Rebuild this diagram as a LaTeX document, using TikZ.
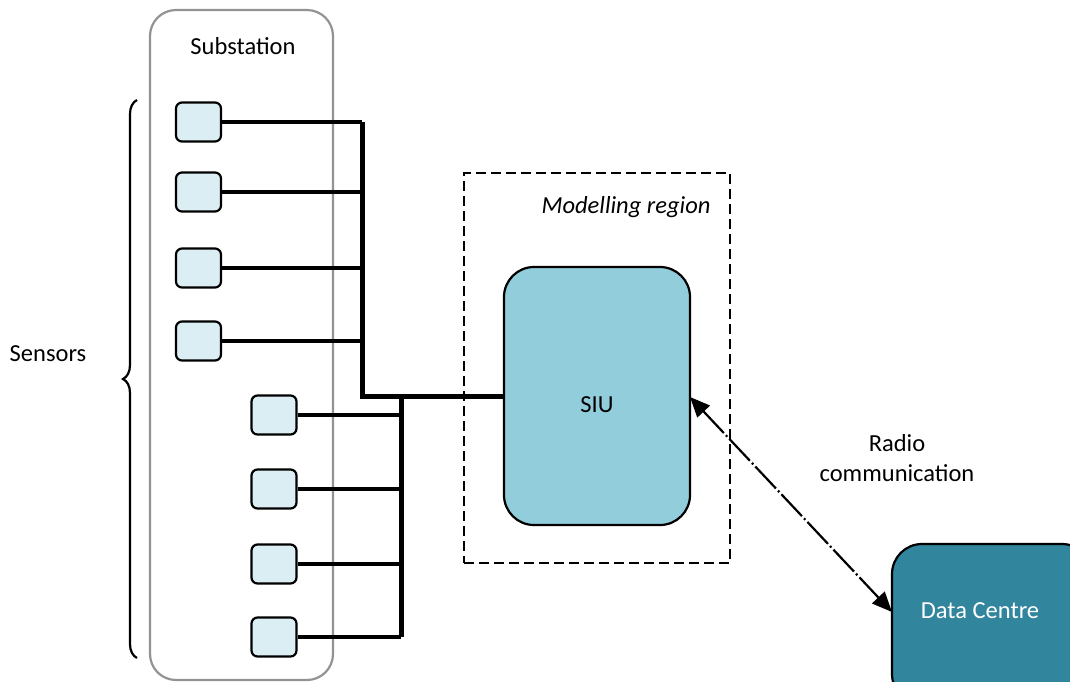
\documentclass[tikz,border=0pt]{standalone}
\usepackage{fontspec}
\setmainfont{Carlito}
\usetikzlibrary{arrows.meta,decorations.pathreplacing}
\definecolor{sensfill}{HTML}{DAEEF3}
\definecolor{siufill}{HTML}{92CDDC}
\definecolor{dcfill}{HTML}{31859C}
\begin{document}
\begin{tikzpicture}[x=1pt,y=-1pt,
  sensor/.style={draw=black,line width=2.2pt,fill=sensfill,rounded corners=6pt,minimum width=45pt,minimum height=39pt,inner sep=0pt},
  wire/.style={line width=3.8pt},
  bus/.style={line width=5pt},
  lbl/.style={font=\fontsize{24.5}{30}\selectfont,align=center}]
\useasboundingbox (0,0) rectangle (1070,681);
% substation
\node[draw=gray!85,line width=2.2pt,rounded corners=26pt,minimum width=183pt,minimum height=670pt,inner sep=0pt] (sub) at (241.5,345) {};
\node[lbl] (subt) at (243,46) {Substation};
% sensors
\foreach \i/\x/\y in {1/198.5/122,2/198.5/192,3/198.5/268,4/198.5/341,5/274/415,6/274/489,7/274/564,8/274/637}
  \node[sensor] (s\i) at (\x,\y) {};
% modelling region
\node[draw,line width=2.2pt,dash pattern=on 10pt off 5pt,minimum width=266pt,minimum height=390pt,inner sep=0pt] (mod) at (597,368) {};
\node[lbl,font=\fontsize{24.5}{30}\selectfont\itshape,anchor=east] (modt) at (714,207) {Modelling region};
% SIU
\node[draw,line width=2.2pt,fill=siufill,rounded corners=30pt,minimum width=186pt,minimum height=258pt,inner sep=0pt] (siu) at (597,396) {};
\node[lbl] (siut) at (597,405) {SIU};
% data centre
\node[draw,line width=2.2pt,fill=dcfill,rounded corners=30pt,minimum width=200pt,minimum height=160pt,inner sep=0pt] (dc) at (992,624) {};
\node[lbl,text=white] (dct) at (980,611) {Data Centre};
% buses
\coordinate (b1t) at (362,122);
\coordinate (b1b) at (362,396);
\coordinate (b2t) at (401,396);
\coordinate (b2b) at (401,637);
\foreach \i in {1,2,3,4} \draw[wire] (s\i.east) -- (s\i.east -| b1t);
\foreach \i in {5,6,7,8} \draw[wire] (s\i.east) -- (s\i.east -| b2t);
\draw[bus] (b1t) -- (b1b) -- (siu.west |- b1b);
\draw[bus] (b2t) -- (b2b);
% radio link
\coordinate (ra) at (690,397);
\coordinate (rb) at (892,612);
\draw[line width=2.2pt,{Triangle[length=20pt,width=17pt]}-{Triangle[length=20pt,width=17pt]},dash pattern=on 30pt off 3pt on 2pt off 3pt] (ra) -- (rb);
\node[lbl] (radio) at (897,458) {Radio\\communication};
% brace and sensors label
\draw[line width=2.2pt,decorate,decoration={brace,amplitude=14pt}] (137,658) -- (137,100);
\node[lbl] (senst) at (48,354) {Sensors};
\end{tikzpicture}
\end{document}
